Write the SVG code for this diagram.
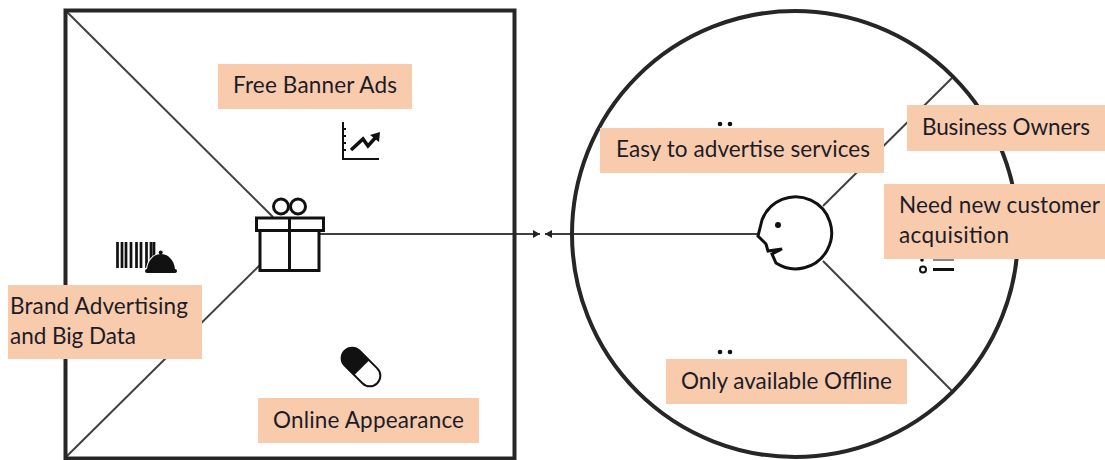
<svg xmlns="http://www.w3.org/2000/svg" width="1105" height="460" viewBox="0 0 1105 460">
<style>
.frame{fill:none;stroke:#262626;stroke-width:4}
.conn{fill:none;stroke:#404040;stroke-width:2}
.ic{fill:none;stroke:#111;stroke-width:3}
.f{fill:#111}
.lb{fill:#f8cbad}
.t{font-family:Lato,"Open Sans","Liberation Sans",sans-serif;font-size:22.500px;fill:#1c1c28}
</style>
<defs>
<marker id="ah" markerUnits="userSpaceOnUse" markerWidth="8" markerHeight="8" refX="7" refY="4" orient="auto"><path d="M0 0L7 4L0 8Z" fill="#222"/></marker>
</defs>
<g id="connectors">
<path class="conn" d="M66 11L273 217"/>
<path class="conn" d="M66 457L260 265"/>
<path class="conn" d="M320 234H540" marker-end="url(#ah)"/>
<path class="conn" d="M758 234H545" marker-end="url(#ah)"/>
<path class="conn" d="M823 206L953 77"/>
<path class="conn" d="M823 261L953 392"/>
</g>
<g id="canvas-square"><rect class="frame" x="65.500" y="10.500" width="449" height="448"/></g>
<g id="customer-circle"><circle class="frame" cx="795" cy="234" r="223"/></g>
<g id="gift">
<rect class="ic" x="256.500" y="218" width="67" height="12.500"/>
<rect class="ic" x="260" y="230.500" width="59" height="40"/>
<path class="ic" d="M289.500 218V270.500"/>
<circle class="ic" cx="281" cy="206.500" r="7.500"/>
<circle class="ic" cx="298" cy="206.500" r="7.500"/>
</g>
<g id="face">
<path class="ic" d="M762 220L758 236L766 244L768 251L782 249L772 254L776 263A36 36 0 1 0 762 220Z" style="fill:#fff"/>
<circle class="f" cx="778" cy="225" r="3"/>
</g>
<g id="chart-icon">
<path class="ic" style="stroke-width:2" d="M343 122V159H379M343 129H346M343 136H346M343 143H346M343 150H346"/>
<path class="ic" style="stroke-width:3.500" d="M351 150L363 139L368 146L376 137"/>
<path class="f" d="M370 135L380 132L379 142Z"/>
</g>
<g id="barcode-icon">
<path d="M117.500 242V268M122 242V268M126 242V268M131 242V268M136.500 242V268M141 242V268M146.500 242V268M151 242V264M154 242V260" stroke="#111" stroke-width="2.700" fill="none"/>
<path class="f" d="M147 269C148 260 154 254 161 254C168 254 174 260 175 269Z" stroke="#fff" stroke-width="2" paint-order="stroke"/>
<circle class="f" cx="160.700" cy="252.500" r="2"/>
<rect class="f" x="145" y="269" width="32" height="4" rx="2"/>
</g>
<g id="pill-icon" transform="translate(361 367) rotate(45)">
<rect x="-23" y="-10.500" width="46" height="21" rx="10.500" fill="#fff" stroke="#111" stroke-width="2"/>
<path class="f" d="M1 -11H-12.500A11 11 0 0 0 -12.500 11H1Z"/>
</g>
<g id="dots">
<circle class="f" cx="720" cy="124" r="2.300"/><circle class="f" cx="730" cy="124" r="2.300"/>
<circle class="f" cx="720" cy="352" r="2.300"/><circle class="f" cx="730" cy="352" r="2.300"/>
<path d="M933 260H954" stroke="#888" stroke-width="2"/>
<path d="M933 269.500H954" stroke="#111" stroke-width="3"/>
<circle cx="923" cy="269.500" r="3" fill="none" stroke="#111" stroke-width="2"/>
<circle class="f" cx="922" cy="260" r="1.800"/>
</g>
<g id="label-free-banner"><rect class="lb" x="218" y="64" width="194" height="45"/><text class="t" x="233" y="93" textLength="164">Free Banner Ads</text></g>
<g id="label-brand"><rect class="lb" x="8" y="285" width="194" height="74"/><text class="t" x="10" y="314" textLength="178">Brand Advertising</text><text class="t" x="10" y="344" textLength="126">and Big Data</text></g>
<g id="label-online"><rect class="lb" x="258" y="398" width="221" height="45"/><text class="t" x="273" y="428" textLength="191">Online Appearance</text></g>
<g id="label-easy"><rect class="lb" x="600" y="128" width="284" height="45"/><text class="t" x="616" y="157" textLength="254">Easy to advertise services</text></g>
<g id="label-owners"><rect class="lb" x="907" y="105" width="198" height="46"/><text class="t" x="922" y="135" textLength="168">Business Owners</text></g>
<g id="label-need"><rect class="lb" x="884" y="184" width="221" height="75"/><text class="t" x="899" y="213" textLength="201">Need new customer</text><text class="t" x="899" y="243" textLength="110">acquisition</text></g>
<g id="label-offline"><rect class="lb" x="666" y="359" width="241" height="45"/><text class="t" x="681" y="389" textLength="211">Only available Offline</text></g>
</svg>
